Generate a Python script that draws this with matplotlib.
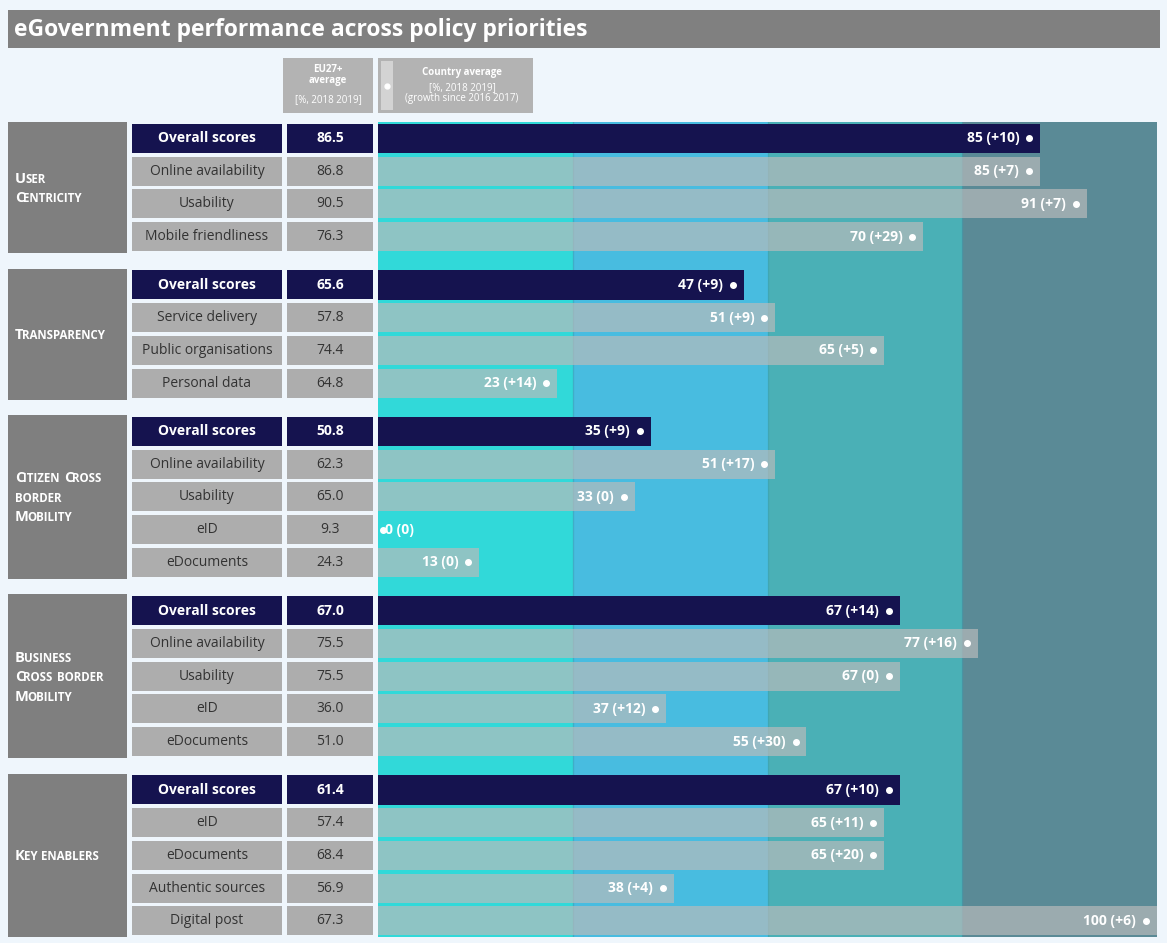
import matplotlib
matplotlib.use("Agg")
import matplotlib.pyplot as plt
from matplotlib.patches import Rectangle

plt.rcParams['font.family'] = ['Open Sans', 'DejaVu Sans']

# ---- data ----
groups = ["User Centricity", "Transparency", "Citizen Cross border Mobility",
          "Business Cross border Mobility", "Key enablers"]
group_lines = [["User", "Centricity"], ["Transparency"],
               ["Citizen Cross", "border", "Mobility"],
               ["Business", "Cross border", "Mobility"], ["Key enablers"]]
indicators = [
    ["Overall scores", "Online availability", "Usability", "Mobile friendliness"],
    ["Overall scores", "Service delivery", "Public organisations", "Personal data"],
    ["Overall scores", "Online availability", "Usability", "eID", "eDocuments"],
    ["Overall scores", "Online availability", "Usability", "eID", "eDocuments"],
    ["Overall scores", "eID", "eDocuments", "Authentic sources", "Digital post"],
]
eu_avg = [
    [86.5, 86.8, 90.5, 76.3],
    [65.6, 57.8, 74.4, 64.8],
    [50.8, 62.3, 65.0, 9.3, 24.3],
    [67.0, 75.5, 75.5, 36.0, 51.0],
    [61.4, 57.4, 68.4, 56.9, 67.3],
]
country = [
    [85, 85, 91, 70],
    [47, 51, 65, 23],
    [35, 51, 33, 0, 13],
    [67, 77, 67, 37, 55],
    [67, 65, 65, 38, 100],
]
growth = [
    [10, 7, 7, 29],
    [9, 9, 5, 14],
    [9, 17, 0, 0, 0],
    [14, 16, 0, 12, 30],
    [10, 11, 20, 4, 6],
]
bands = [0, 25, 50, 75, 100]
band_colors = ["#31D9D9", "#48BCE0", "#4AB0B6", "#5A8A96"]

# ---- layout (pixels) ----
W, H = 1167, 943
BG = "#EFF6FC"
NAVY = "#15134F"
GREY_CELL = "#ADADAD"
top, pitch, gap = 122, 32.75, 15.5
bar_x0, bar_x1, bar_bottom = 378, 1157, 937

fig = plt.figure(figsize=(W / 100, H / 100), dpi=100, facecolor=BG)
base = fig.add_axes([0, 0, 1, 1])
base.set_xlim(0, W)
base.set_ylim(H, 0)
base.axis('off')

# title
base.add_patch(Rectangle((8, 10), 1152, 38, color="#808080", lw=0))
base.text(14, 30, "eGovernment performance across policy priorities", color="white",
          fontsize=16.5, fontweight='bold', va='center', ha='left')

# legend boxes
base.add_patch(Rectangle((283, 58), 90, 55, color="#B3B3B3", lw=0))
base.text(328, 75, "EU27+\naverage", color="white", fontsize=7, fontweight='bold',
          ha='center', va='center', linespacing=0.95)
base.text(328, 100, "[%, 2018 2019]", color="white", fontsize=7, ha='center', va='center')
base.add_patch(Rectangle((378, 58), 155, 55, color="#B3B3B3", lw=0))
base.add_patch(Rectangle((381, 61), 12, 49, color="#D3D3D3", lw=0))
base.plot(387, 86, 'o', color="white", ms=3.5)
base.text(462, 72, "Country average", color="white", fontsize=7, fontweight='bold',
          ha='center', va='center')
base.text(462, 93, "[%, 2018 2019]\n(growth since 2016 2017)", color="white", fontsize=7,
          ha='center', va='center', linespacing=1.0)


def smallcaps(x, y, line, big=10.5, small=8.3):
    # draw a line of text in small caps by chaining pieces, word by word
    prev = None
    for word in line.split(" "):
        pieces = []
        for ch in word:
            sz = big if ch.isupper() else small
            if pieces and pieces[-1][1] == sz:
                pieces[-1][0] += ch.upper()
            else:
                pieces.append([ch.upper(), sz])
        for j, (txt, sz) in enumerate(pieces):
            if prev is None:
                prev = base.text(x, y, txt, fontsize=sz, fontweight='bold', color="white",
                                 ha='left', va='bottom')
            else:
                dx = 4 if j == 0 else -1
                prev = base.annotate(txt, xy=(1, 0), xycoords=prev, xytext=(dx, 0),
                                     textcoords='offset pixels', fontsize=sz,
                                     fontweight='bold', color="white", ha='left', va='bottom')


# row positions
row_y = []
y = top
for g, inds in enumerate(indicators):
    ys = []
    for i in range(len(inds)):
        ys.append(y + i * pitch + pitch / 2)
    row_y.append(ys)
    y += len(inds) * pitch + gap

# table cells
for g, inds in enumerate(indicators):
    ys = row_y[g]
    gy0 = ys[0] - pitch / 2
    gy1 = ys[-1] + pitch / 2
    base.add_patch(Rectangle((8, gy0), 119, gy1 - gy0, color="#7F7F7F", lw=0))
    lines = group_lines[g]
    mid = (gy0 + gy1) / 2
    n = len(lines)
    for k, ln in enumerate(lines):
        ly = mid + (k - (n - 1) / 2) * 19.5 + 8
        smallcaps(15, ly, ln)
    for i, name in enumerate(inds):
        cy = ys[i]
        overall = i == 0
        fc = NAVY if overall else GREY_CELL
        tc = "white" if overall else "#333333"
        fw = 'bold' if overall else 'normal'
        base.add_patch(Rectangle((132, cy - 14.5), 150, 29, color=fc, lw=0))
        base.add_patch(Rectangle((287, cy - 14.5), 86, 29, color=fc, lw=0))
        base.text(207, cy, name, color=tc, fontsize=10, fontweight=fw, ha='center', va='center')
        base.text(330, cy, f"{eu_avg[g][i]:.1f}", color=tc, fontsize=10, fontweight=fw,
                  ha='center', va='center')

# bar area
ax = fig.add_axes([bar_x0 / W, 1 - bar_bottom / H, (bar_x1 - bar_x0) / W, (bar_bottom - top) / H])
ax.set_xlim(0, 100)
ax.set_ylim(bar_bottom, top)
ax.axis('off')
for k in range(4):
    ax.axvspan(bands[k], bands[k + 1], color=band_colors[k], lw=0, zorder=0)
    if k > 0:
        ax.axvline(bands[k], color="#3A9FB0", lw=1, alpha=0.5, zorder=0.5)

for g, inds in enumerate(indicators):
    for i in range(len(inds)):
        cy = row_y[g][i]
        v = country[g][i]
        gr = growth[g][i]
        label = f"{v} ({'+' + str(gr) if gr > 0 else gr})"
        if i == 0:
            ax.barh(cy, v, height=29.5, color=NAVY, lw=0, zorder=2)
        else:
            ax.barh(cy, v, height=29, color="#BBBBBB", alpha=0.68, lw=0, zorder=2)
        if v > 5:
            ax.plot(v - 1.4, cy, 'o', color="white", ms=4, zorder=3)
            ax.annotate(label, xy=(v, cy), xytext=(-21, 0), textcoords='offset pixels',
                        color="white", fontsize=10, fontweight='bold', ha='right', va='center',
                        zorder=3)
        else:
            ax.plot(v + 0.6, cy, 'o', color="white", ms=4, zorder=3)
            ax.annotate(label, xy=(v, cy), xytext=(7, 0), textcoords='offset pixels',
                        color="white", fontsize=10, fontweight='bold', ha='left', va='center',
                        zorder=3)

fig.savefig("out.png", dpi=100, facecolor=BG)
